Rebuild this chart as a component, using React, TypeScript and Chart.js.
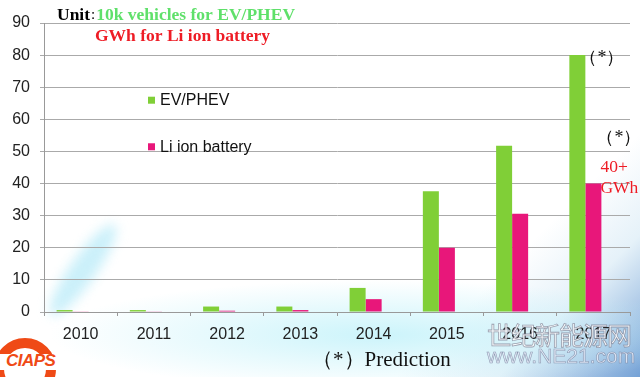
import React, { useEffect, useRef } from "react";
import { Chart, registerables } from "chart.js";

Chart.register(...registerables);

const years = ["2010", "2011", "2012", "2013", "2014", "2015", "2016", "2017"];
const evPhev = [0.6, 0.6, 1.7, 1.7, 7.5, 37.6, 51.8, 80];
const liBattery = [0.2, 0.2, 0.4, 0.6, 4.0, 20.0, 30.6, 40];
const spacer = [null, null, null, null, null, null, null, null];
const yTicks = [0, 10, 20, 30, 40, 50, 60, 70, 80, 90];

const GREEN = "#80cf37";
const PINK = "#e8177a";

const annotations = {
  id: "annotations",
  afterDraw(chart: any) {
    const ctx = chart.ctx;
    const x = chart.scales.x;
    const y = chart.scales.y;
    ctx.save();
    ctx.textBaseline = "middle";
    ctx.textAlign = "left";
    // Unit line
    ctx.font = "bold 17.5px 'Liberation Serif'";
    ctx.fillStyle = "#000";
    ctx.fillText("Unit", 57, 15);
    const w1 = ctx.measureText("Unit").width;
    ctx.font = "15px 'Liberation Serif'";
    ctx.fillText(":", 57 + w1 + 1, 15);
    const w2 = ctx.measureText(":").width;
    ctx.font = "bold 17.5px 'Liberation Serif'";
    ctx.fillStyle = "#5fe06a";
    ctx.fillText("10k vehicles for EV/PHEV", 57 + w1 + w2 + 2, 15);
    ctx.fillStyle = "#ee1c25";
    ctx.fillText("GWh for Li ion battery", 95, 36);

    // legend
    const items = [
      { label: "EV/PHEV", color: GREEN, v: 65.8 },
      { label: "Li ion battery", color: PINK, v: 51.3 },
    ];
    ctx.font = "16px 'Liberation Sans'";
    for (const it of items) {
      const py = y.getPixelForValue(it.v);
      ctx.fillStyle = it.color;
      ctx.fillRect(148, py - 4, 7, 7);
      ctx.fillStyle = "#111";
      ctx.fillText(it.label, 160, py);
    }

    // prediction marks
    const xc = x.getPixelForValue(7);
    ctx.font = "18px 'Liberation Serif'";
    ctx.fillStyle = "#111";
    ctx.fillText("（*）", xc - 14, y.getPixelForValue(79));
    ctx.fillText("（*）", xc + 3, y.getPixelForValue(54));
    ctx.fillStyle = "#ee1c25";
    ctx.font = "17.5px 'Liberation Serif'";
    ctx.fillText("40+", xc + 7, y.getPixelForValue(45));
    ctx.fillText("GWh", xc + 7, y.getPixelForValue(38.5));

    ctx.font = "21px 'Liberation Serif'";
    ctx.fillStyle = "#111";
    ctx.fillText("（*）Prediction", 312, 360);
    ctx.restore();
  },
};

export default function App() {
  const ref = useRef<HTMLCanvasElement | null>(null);
  useEffect(() => {
    if (!ref.current) return;
    const chart = new Chart(ref.current, {
      type: "bar",
      data: {
        labels: years,
        datasets: [
          { label: "EV/PHEV", data: evPhev, backgroundColor: GREEN },
          { label: "Li ion battery", data: liBattery, backgroundColor: PINK },
          { label: "", data: spacer as any, backgroundColor: "transparent" },
        ],
      },
      options: {
        animation: false,
        responsive: true,
        maintainAspectRatio: false,
        datasets: { bar: { categoryPercentage: 0.656, barPercentage: 1 } },
        layout: { padding: { top: 23, right: 10, left: 0, bottom: 0 } },
        plugins: { legend: { display: false }, tooltip: { enabled: false } },
        scales: {
          x: {
            afterFit: (s: any) => {
              s.height = 65;
            },
            grid: {
              display: true,
              drawOnChartArea: false,
              drawTicks: true,
              tickLength: 4,
              offset: true,
              color: "#999",
            },
            border: { color: "#999" },
            ticks: { font: { family: "'Liberation Sans'", size: 16 }, color: "#222", padding: 9 },
          },
          y: {
            min: 0,
            max: 90,
            afterFit: (s: any) => {
              s.width = 44;
            },
            afterBuildTicks: (s: any) => {
              s.ticks = yTicks.map((v) => ({ value: v }));
            },
            grid: { color: "#aaa", tickLength: 4 },
            border: { color: "#999" },
            ticks: { font: { family: "'Liberation Sans'", size: 16 }, color: "#222", padding: 10 },
          },
        },
      },
      plugins: [annotations],
    });
    return () => chart.destroy();
  }, []);

  return (
    <div
      style={{
        position: "fixed",
        left: 0,
        top: 0,
        width: 640,
        height: 377,
        overflow: "hidden",
        background:
          "radial-gradient(ellipse 330px 55px at 380px 335px, rgba(195,242,250,0.85), rgba(255,255,255,0) 100%), linear-gradient(315deg, rgba(70,130,200,0.75) 0%, rgba(170,210,235,0.3) 14%, rgba(255,255,255,0) 24%), #fff",
      }}
    >
      <div
        style={{
          position: "absolute",
          left: 70,
          top: 215,
          width: 26,
          height: 110,
          borderRadius: "50%",
          background: "rgba(160,228,245,0.55)",
          transform: "rotate(35deg)",
          filter: "blur(6px)",
        }}
      />
      {/* CIAPS logo */}
      <div
        style={{
          position: "absolute",
          left: -6,
          top: 338,
          width: 62,
          height: 62,
          borderRadius: "50%",
          border: "10px solid #ef4a16",
          boxSizing: "border-box",
        }}
      />
      <div
        style={{
          position: "absolute",
          left: 0,
          top: 354,
          width: 62,
          height: 16,
          background: "#fff",
        }}
      />
      <div
        style={{
          position: "absolute",
          left: 6,
          top: 351,
          fontFamily: "'Liberation Sans'",
          fontWeight: "bold",
          fontStyle: "italic",
          fontSize: 17,
          color: "#ef4a16",
          letterSpacing: -0.5,
        }}
      >
        CIAPS
      </div>
      <canvas ref={ref} style={{ position: "absolute", left: 0, top: 0 }} />
      {/* watermark */}
      <div
        style={{
          position: "absolute",
          left: 487,
          top: 316,
          fontFamily: "'Noto Sans CJK SC'",
          fontSize: 25,
          color: "rgba(255,255,255,0.85)",
          WebkitTextStroke: "0.8px rgba(120,120,140,0.7)",
          letterSpacing: -1,
        }}
      >
        世纪新能源网
      </div>
      <div
        style={{
          position: "absolute",
          left: 487,
          top: 344,
          fontFamily: "'Liberation Sans'",
          fontSize: 21,
          color: "rgba(225,232,245,0.9)",
          WebkitTextStroke: "0.6px rgba(110,120,150,0.7)",
        }}
      >
        www.NE21.com
      </div>
    </div>
  );
}
